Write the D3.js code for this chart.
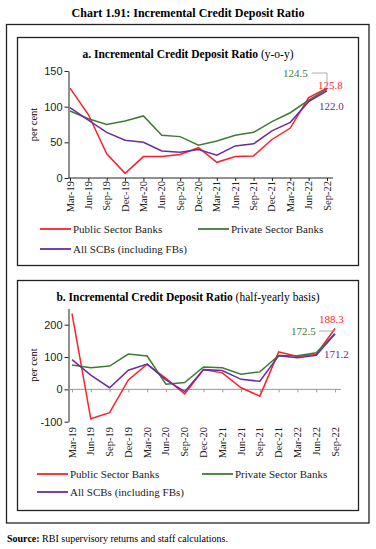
<!DOCTYPE html>
<html>
<head>
<meta charset="utf-8">
<script src="https://d3js.org/d3.v7.min.js"></script>
<style>
  body { margin: 0; background: #fff; }
  svg { display: block; font-family: "Liberation Serif", "DejaVu Serif", serif; }
  .tick text { font-family: "Liberation Sans", Arial, sans-serif; }
</style>
</head>
<body>
<div id="chart"></div>
<script>

// quarters shown on both panels
var quarters = ['Mar-19','Jun-19','Sep-19','Dec-19','Mar-20','Jun-20','Sep-20','Dec-20',
  'Mar-21','Jun-21','Sep-21','Dec-21','Mar-22','Jun-22','Sep-22']

// panel a: y-o-y
var yoyPSB  = [126, 89, 34, 6.5, 30, 30, 33, 42.5, 22, 30, 31, 54, 70, 112.6, 125.8]
var yoyPVB  = [94, 83, 75, 80, 87, 60, 58, 46, 52, 60, 64, 79, 91.5, 109, 124.5]
var yoyAll  = [98.6, 81, 64, 53, 50, 38, 36, 40, 32, 45, 48, 66, 78, 107, 122.0]
var yoyTicks = [0, 50, 100, 150]

// panel b: half-yearly
var hyPSB = [234, -91, -72, 29, 78, 34, -14, 61, 51, 5, -21, 116, 102, 108, 188.3]
var hyPVB = [75, 67, 72, 109, 103, 16, 21, 69, 67, 47, 54, 105, 104, 113, 172.5]
var hyAll = [92, 44, 5, 59, 78, 29, -7, 61, 58, 31, 25, 104, 98, 105, 171.2]
var hyTicks = [-100, 0, 100, 200]

var seriesNames = ['Public Sector Banks', 'Private Sector Banks', 'All SCBs (including FBs)']
var colors = ['#ff1f2a', '#3f7b34', '#6a2d9e']

const width = 376
const height = 549

var svg = d3.select('#chart').append('svg')
  .attr('width', width)
  .attr('height', height)

// main title
svg.append('text')
  .attr('x', 188).attr('y', 17)
  .attr('text-anchor', 'middle')
  .style('font-size', '12px').style('font-weight', 'bold')
  .text('Chart 1.91: Incremental Credit Deposit Ratio')

// outer frame
svg.append('rect').attr('x', 6.5).attr('y', 24.5).attr('width', 362.5).attr('height', 498.5)
  .style('fill', 'none').style('stroke', '#222').style('stroke-width', 1.3)

function panel(opts) {
  var g = svg.append('g')

  g.append('rect').attr('x', 17.5).attr('y', opts.top).attr('width', 341).attr('height', opts.bottom - opts.top)
    .style('fill', 'none').style('stroke', '#222').style('stroke-width', 1.3)

  var t = g.append('text').attr('x', 188).attr('y', opts.top + 20)
    .attr('text-anchor', 'middle').style('font-size', '11.5px')
  t.append('tspan').style('font-weight', 'bold').text(opts.title)
  t.append('tspan').text(' ' + opts.sub)

  var x = d3.scalePoint().domain(quarters).range(opts.xr)
  var y = d3.scaleLinear().domain(opts.domain).range(opts.yr)

  // y axis
  var yAxis = d3.axisLeft(y).tickValues(opts.ticks).tickSize(4).tickSizeOuter(0)
    .tickFormat(d => String(d))
  var ya = g.append('g').attr('transform', 'translate(' + opts.axisX + ',0)').call(yAxis)
  ya.selectAll('text').style('font-size', '11px').style('fill', '#222').attr('dx', 1)
  ya.selectAll('line, path').style('stroke', '#222')

  // x axis
  var xa = g.append('g').attr('transform', 'translate(0,' + y(opts.xAt) + ')')
    .call(d3.axisBottom(x).tickSize(3).tickSizeOuter(0))
  xa.select('path').attr('d', 'M' + opts.axisX + ',0H' + (opts.xr[1] + 6)).style('stroke', opts.xColor)
  xa.selectAll('line').style('stroke', opts.xColor)
  xa.selectAll('text').remove()

  // x labels at bottom, rotated
  g.selectAll('.xl').data(quarters).enter().append('text')
    .attr('transform', d => 'translate(' + (x(d) + 3.5) + ',' + opts.labelY + ') rotate(-90)')
    .attr('text-anchor', 'end')
    .style('font-size', '10.5px').style('fill', '#222')
    .text(d => d)

  g.append('text')
    .attr('transform', 'translate(37,' + ((opts.yr[0] + opts.yr[1]) / 2) + ') rotate(-90)')
    .attr('text-anchor', 'middle').style('font-size', '10.5px')
    .text('per cent')

  var line = d3.line().x((d, i) => x(quarters[i])).y(d => y(d))
  opts.series.forEach(function(s, k) {
    g.append('path').datum(s).attr('d', line)
      .style('fill', 'none').style('stroke', colors[k]).style('stroke-width', 1.5)
  })

  // end labels
  opts.labels.forEach(function(l) {
    g.append('text').attr('x', l.x).attr('y', l.y)
      .style('font-size', '11px').style('fill', colors[l.k]).text(l.text)
  })
  var lx = x(quarters[quarters.length - 1])
  var ly = y(opts.series[1][opts.series[1].length - 1])
  g.append('path')
    .attr('d', 'M' + opts.lead.x + ',' + opts.lead.y + 'H' + lx + 'V' + (ly - 3))
    .style('fill', 'none').style('stroke', '#999').style('stroke-width', 0.8)

  // legend
  var leg = [[opts.legX[0], opts.legY[0]], [opts.legX[1], opts.legY[0]], [opts.legX[0], opts.legY[1]]]
  seriesNames.forEach(function(n, k) {
    g.append('line').attr('x1', leg[k][0]).attr('x2', leg[k][0] + 31)
      .attr('y1', leg[k][1]).attr('y2', leg[k][1])
      .style('stroke', colors[k]).style('stroke-width', 1.8)
    g.append('text').attr('x', leg[k][0] + 33).attr('y', leg[k][1] + 3.5)
      .style('font-size', '11px').style('fill', '#222').text(n)
  })
}

panel({
  top: 37.5, bottom: 265.5,
  title: 'a. Incremental Credit Deposit Ratio', sub: '(y-o-y)',
  xr: [70, 327], yr: [178, 71], domain: [0, 150], ticks: yoyTicks,
  axisX: 68.5, xAt: 0, xColor: '#222', labelY: 181,
  series: [yoyPSB, yoyPVB, yoyAll],
  labels: [{k: 1, x: 283, y: 77, text: '124.5'}, {k: 0, x: 318, y: 89, text: '125.8'}, {k: 2, x: 319, y: 110, text: '122.0'}],
  lead: {x: 312, y: 73},
  legX: [40, 198], legY: [229, 249]
})

panel({
  top: 280.5, bottom: 510.5,
  title: 'b. Incremental Credit Deposit Ratio', sub: '(half-yearly basis)',
  xr: [72, 335], yr: [421.7, 308.5], domain: [-100, 250], ticks: hyTicks,
  axisX: 68.5, xAt: 0, xColor: '#999', labelY: 427,
  series: [hyPSB, hyPVB, hyAll],
  labels: [{k: 1, x: 291, y: 335, text: '172.5'}, {k: 0, x: 319, y: 323, text: '188.3'}, {k: 2, x: 324, y: 358, text: '171.2'}],
  lead: {x: 319, y: 331},
  legX: [37, 202], legY: [474, 492]
})

// source
var src = svg.append('text').attr('x', 7).attr('y', 542).style('font-size', '10px')
src.append('tspan').style('font-weight', 'bold').text('Source:')
src.append('tspan').text(' RBI supervisory returns and staff calculations.')

</script>
</body>
</html>
